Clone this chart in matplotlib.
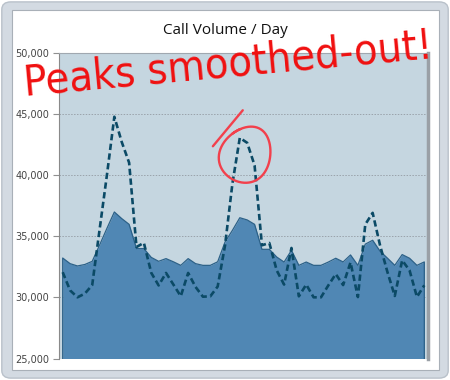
import numpy as np
import matplotlib
matplotlib.use("Agg")
import matplotlib.pyplot as plt
from matplotlib.patches import FancyBboxPatch, Rectangle

# daily call volume, actual (dashed) and smoothed (area)
actual = [32050, 30570, 30000, 30300, 31000, 35530, 40020, 44750, 42690, 41000,
          34110, 34450, 32000, 30970, 31990, 31040, 30090, 31990, 30850, 30050,
          30080, 30880, 34250, 39300, 43030, 42620, 40780, 34250, 34440, 32200,
          31040, 34030, 30080, 31040, 30000, 30000, 30980, 31900, 31000, 32850,
          30020, 35950, 36900, 34250, 32070, 30110, 33020, 32200, 30030, 30980]
smoothed = [33210, 32750, 32560, 32680, 32940, 34270, 35640, 36970, 36430, 35960,
            33980, 33980, 33260, 32940, 33160, 32900, 32610, 33160, 32750, 32610,
            32610, 32900, 34520, 35470, 36500, 36320, 35960, 33920, 33920, 33290,
            32880, 33840, 32610, 32880, 32610, 32610, 32880, 33190, 32890, 33460,
            32610, 34340, 34660, 33770, 33200, 32610, 33490, 33190, 32610, 32890]
yticks = [25000, 30000, 35000, 40000, 45000, 50000]
title = "Call Volume / Day"
note = "Peaks smoothed-out!"

W, H = 450, 380
fig = plt.figure(figsize=(4.5, 3.8), dpi=100)
fig.patch.set_facecolor("white")

# outer grey frame and white panel
frame = FancyBboxPatch((0.004, 0.005), 0.992, 0.99, boxstyle="round,pad=0,rounding_size=0.02",
                       transform=fig.transFigure, facecolor="#d3dae2", edgecolor="#b9c1ca",
                       lw=1, zorder=-2)
fig.patches.append(frame)
panel = Rectangle((12 / W, 1 - 370 / H), 427 / W, 360 / H, transform=fig.transFigure,
                  facecolor="white", edgecolor="#a9b0b8", lw=0.8, zorder=-1)
fig.patches.append(panel)

ax = fig.add_axes([59 / W, 1 - 358.5 / H, 369 / W, 306 / H])
ax.set_facecolor("#c5d6e0")
x = np.arange(len(actual))

ax.fill_between(x, 25000, smoothed, color="#5087b4", lw=0, zorder=2)
ax.plot(np.r_[x[0], x, x[-1]], np.r_[25000, smoothed, 25000], color="#2c6188", lw=0.9, zorder=3)
ax.plot(x, actual, color="#0b4a66", lw=1.9, linestyle=(0, (2.4, 1.3)), zorder=4)

ax.set_xlim(-0.5, len(actual) - 0.5)
ax.set_ylim(25000, 50000)
ax.set_yticks(yticks)
ax.set_yticklabels([f"{v:,}" for v in yticks], fontsize=7, color="#444444")
ax.set_xticks([])
ax.yaxis.grid(True, color="#9aa3ab", lw=0.7, linestyle=(0, (1.5, 1.5)), zorder=1)
ax.set_axisbelow(True)
ax.tick_params(axis="y", length=4, width=0.8, color="#909090", pad=3)
ax.spines["bottom"].set_visible(False)
ax.spines["left"].set_color("#8a8a8a")
ax.spines["top"].set_color("#a0a8b0")
ax.spines["top"].set_linewidth(0.8)
ax.spines["right"].set_color("#9aa0a6")
ax.spines["right"].set_linewidth(2.5)

fig.text(225 / W, 1 - 30 / H, title, ha="center", va="center", fontsize=11,
         family="Open Sans", color="#111111")

# hand-drawn circle round the second peak
red = "#f2404c"
t = np.linspace(0.6 * np.pi, 2.7 * np.pi, 140)
cx, cy = 24.65, 41650
ex = cx + 3.5 * np.cos(t - 0.15 * np.sin(t))
ey = cy + 2280 * np.sin(t) + 250 * np.cos(t)
ax.plot(ex, ey, color=red, lw=1.7, zorder=6, solid_capstyle="round")
ax.plot([20.35, 24.4], [42340, 45280], color=red, lw=1.7, zorder=6, solid_capstyle="round")

fig.text(228 / W, 1 - 65 / H, note, ha="center", va="center", rotation=5.3,
         fontsize=31, color="#f01010", family=["DejaVu Sans"], stretch="condensed",
         zorder=10)

fig.savefig("out.png", dpi=100)
